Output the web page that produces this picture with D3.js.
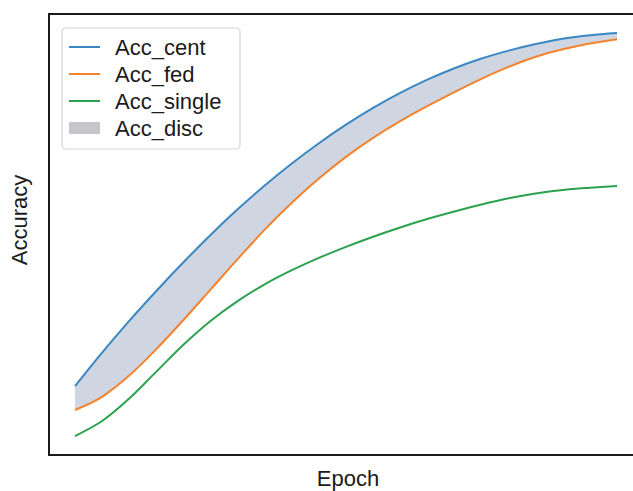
<!DOCTYPE html>
<html>
<head>
    <meta charset='utf-8'>
    <title>Accuracy vs Epoch</title>
    <script src='https://cdn.jsdelivr.net/npm/d3@7'></script>
    <style>
        body { margin: 0; background: #fff; }
        text { font-family: 'Liberation Sans', Arial, sans-serif; fill: #1a1a1a; }
    </style>
</head>
<body>
    <svg width='633' height='491'></svg>
    <script>
        // data (accuracy in %, no ticks on the original)
        const epochs = [0, 5, 10, 15, 20, 25, 30, 35, 40, 45, 50, 55, 60, 65, 70, 75, 80, 85, 90, 95, 100]
        const accCent = [15.6, 23.2, 30.4, 37.2, 43.7, 49.9, 55.7, 61.1, 66.1, 70.7, 74.9, 78.7, 82.1, 85.1, 87.7, 89.9, 91.7, 93.2, 94.4, 95.2, 95.7]
        const accFed = [10.2, 13.2, 18.0, 24.0, 30.6, 37.5, 44.4, 51.1, 57.2, 62.7, 67.6, 71.9, 75.7, 79.1, 82.3, 85.3, 88.0, 90.3, 92.0, 93.3, 94.3]
        const accSingle = [4.3, 7.7, 12.8, 18.9, 25.0, 30.4, 34.9, 38.7, 41.9, 44.7, 47.2, 49.5, 51.6, 53.5, 55.2, 56.8, 58.2, 59.3, 60.1, 60.6, 61.0]
        const legendNames = ['Acc_cent', 'Acc_fed', 'Acc_single', 'Acc_disc']

        const colors = { cent: '#3a87c2', fed: '#f5822c', single: '#2ca24e', disc: '#cfd5e1', patch: '#c6c6ca' }

        const svg = d3.select('svg')
        const frame = { left: 49, top: 14, right: 647, bottom: 455 }

        const x = d3.scaleLinear([0, 100], [75, 617])
        const y = d3.scaleLinear([0, 100], [frame.bottom, frame.top])

        const rows = epochs.map((e, i) => ({ e, cent: accCent[i], fed: accFed[i], single: accSingle[i] }))

        const g = svg.append('g')

        // grey band between centralised and federated
        const band = d3.area().curve(d3.curveCatmullRom)
            .x(d => x(d.e)).y0(d => y(d.fed)).y1(d => y(d.cent))
        g.append('path').datum(rows).attr('d', band).attr('fill', colors.disc)

        const lineOf = key => d3.line().curve(d3.curveCatmullRom).x(d => x(d.e)).y(d => y(d[key]))
        ;['single', 'fed', 'cent'].forEach(k => {
            g.append('path').datum(rows)
                .attr('d', lineOf(k))
                .attr('fill', 'none')
                .attr('stroke', colors[k])
                .attr('stroke-width', 2)
        })

        // axes frame, no ticks
        svg.append('rect')
            .attr('x', frame.left).attr('y', frame.top)
            .attr('width', frame.right - frame.left).attr('height', frame.bottom - frame.top)
            .attr('fill', 'none').attr('stroke', '#1a1a1a').attr('stroke-width', 2)

        svg.append('text')
            .attr('x', (frame.left + frame.right) / 2).attr('y', 486)
            .attr('text-anchor', 'middle').style('font-size', '22px')
            .text('Epoch')
        svg.append('text')
            .attr('transform', 'translate(27,220) rotate(-90)')
            .attr('text-anchor', 'middle').style('font-size', '22px')
            .text('Accuracy')

        // legend
        const lg = svg.append('g').attr('transform', 'translate(62,28)')
        lg.append('rect').attr('width', 178).attr('height', 121).attr('rx', 4)
            .attr('fill', '#fff').attr('fill-opacity', 0.8)
            .attr('stroke', '#d4d4d4').attr('stroke-width', 1.2)
        const keys = ['cent', 'fed', 'single', 'disc']
        keys.forEach((k, i) => {
            const cy = 19 + i * 27
            if (k === 'disc') {
                lg.append('rect').attr('x', 7).attr('y', cy - 6).attr('width', 31).attr('height', 12)
                    .attr('fill', colors.patch)
            } else {
                lg.append('line').attr('x1', 7).attr('x2', 38).attr('y1', cy).attr('y2', cy)
                    .attr('stroke', colors[k]).attr('stroke-width', 2)
            }
            lg.append('text').attr('x', 53).attr('y', cy + 7.5)
                .style('font-size', '22px').text(legendNames[i])
        })
    </script>
</body>
</html>
